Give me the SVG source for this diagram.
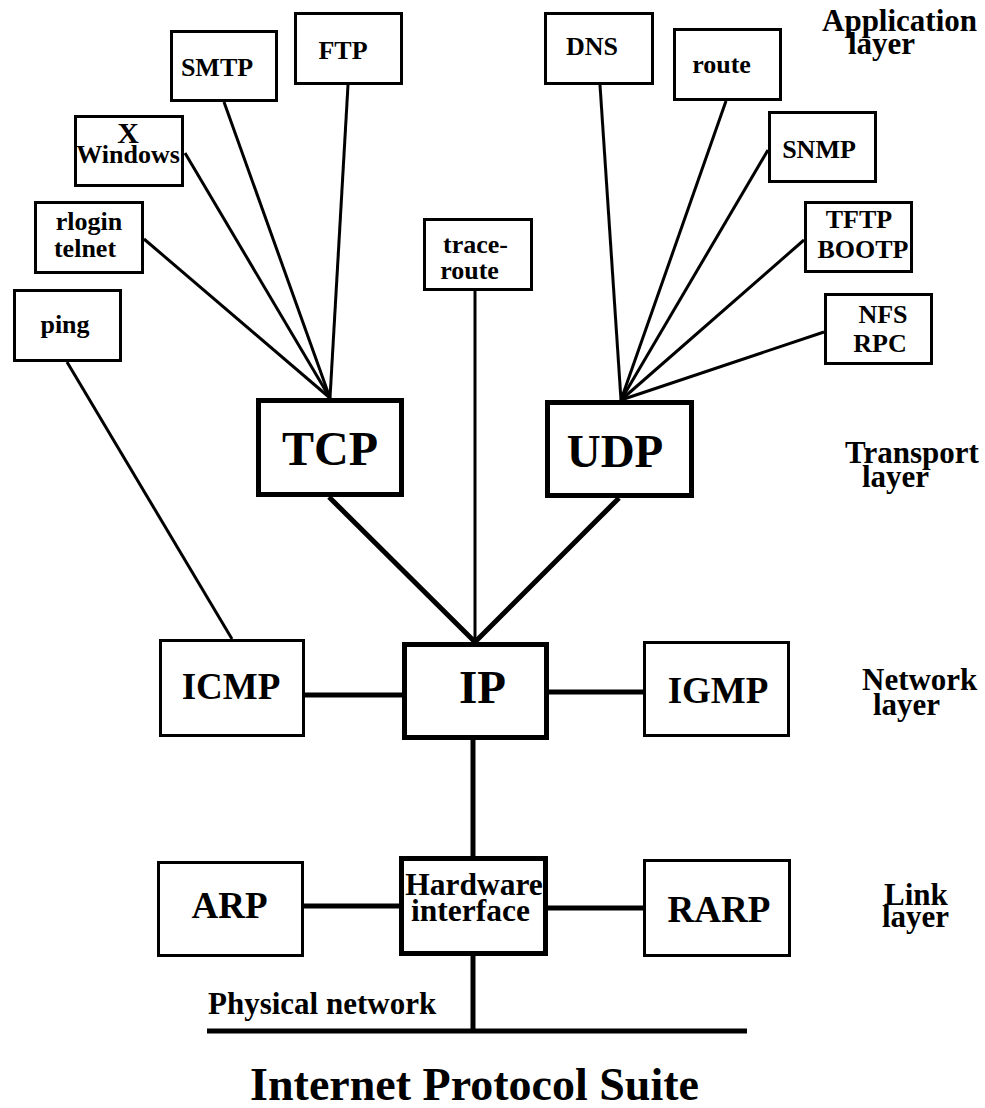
<svg xmlns="http://www.w3.org/2000/svg" width="985" height="1108" viewBox="0 0 985 1108">
<style>
text{font-family:"Liberation Serif","Times New Roman",serif;font-weight:bold;fill:#000}
.box{fill:#fff;stroke:#000;stroke-width:3}
.tbox{fill:#fff;stroke:#000;stroke-width:5}
.c{stroke:#000;stroke-width:3;fill:none}
.ct{stroke:#000;stroke-width:5;fill:none}
.s26{font-size:26px}
.s37{font-size:37px}
.s47{font-size:47px}
.lay{font-size:31px}
.m{text-anchor:middle}
</style>
<rect width="985" height="1108" fill="#fff"/>
<g id="connectors">
<line class="c" x1="348" y1="85" x2="330" y2="398"/>
<line class="c" x1="224" y1="102" x2="330" y2="398"/>
<line class="c" x1="185" y1="153" x2="330" y2="398"/>
<line class="c" x1="144" y1="239" x2="330" y2="398"/>
<line class="c" x1="67" y1="362" x2="232" y2="639"/>
<line class="c" x1="475" y1="291" x2="475" y2="642"/>
<line class="c" x1="600" y1="85" x2="621" y2="400"/>
<line class="c" x1="726" y1="101" x2="621" y2="400"/>
<line class="c" x1="768" y1="150" x2="621" y2="400"/>
<line class="c" x1="804" y1="240" x2="621" y2="400"/>
<line class="c" x1="824" y1="332" x2="621" y2="400"/>
<line class="ct" x1="329" y1="497" x2="475" y2="642"/>
<line class="ct" x1="619" y1="498" x2="475" y2="642"/>
<line class="ct" x1="305" y1="695" x2="402" y2="695"/>
<line class="ct" x1="549" y1="692" x2="643" y2="692"/>
<line class="ct" x1="473" y1="740" x2="473" y2="856"/>
<line class="ct" x1="304" y1="906" x2="399" y2="906"/>
<line class="ct" x1="548" y1="908" x2="645" y2="908"/>
<line class="ct" x1="473" y1="956" x2="473" y2="1031"/>
<line class="ct" x1="207" y1="1031" x2="747" y2="1031"/>
</g>
<g id="ftp"><rect class="box" x="295.5" y="13.5" width="106" height="70"/><text class="s26 m" x="343" y="59">FTP</text></g>
<g id="smtp"><rect class="box" x="171.5" y="31.5" width="105" height="69"/><text class="s26 m" x="217" y="76">SMTP</text></g>
<g id="xwindows"><rect class="box" x="75.5" y="116.5" width="107" height="69"/><text class="m"><tspan style="font-size:30px" x="128" y="143">X</tspan><tspan class="s26" x="128" y="163">Windows</tspan></text></g>
<g id="rlogin"><rect class="box" x="35.5" y="202.5" width="107" height="70"/><text class="s26 m"><tspan x="89" y="230">rlogin</tspan><tspan x="85" y="257">telnet</tspan></text></g>
<g id="ping"><rect class="box" x="14.5" y="290.5" width="106" height="70"/><text class="s26 m" x="65" y="333">ping</text></g>
<g id="traceroute"><rect class="box" x="424.5" y="219.5" width="107" height="70"/><text class="s26 m"><tspan x="475.5" y="253">trace-</tspan><tspan x="469.5" y="279">route</tspan></text></g>
<g id="dns"><rect class="box" x="545.5" y="13.5" width="107" height="70"/><text class="s26 m" x="592" y="55">DNS</text></g>
<g id="route"><rect class="box" x="674.5" y="29.5" width="106" height="70"/><text class="s26 m" x="721.5" y="73">route</text></g>
<g id="snmp"><rect class="box" x="769.5" y="112.5" width="106" height="69"/><text class="s26 m" x="819" y="158">SNMP</text></g>
<g id="tftp"><rect class="box" x="805.5" y="202.5" width="106" height="69"/><text class="s26 m"><tspan x="859" y="228">TFTP</tspan><tspan x="863" y="258">BOOTP</tspan></text></g>
<g id="nfs"><rect class="box" x="825.5" y="294.5" width="106" height="69"/><text class="s26 m"><tspan x="883" y="323">NFS</tspan><tspan x="880" y="352">RPC</tspan></text></g>
<g id="tcp"><rect class="tbox" x="258.5" y="400.5" width="143" height="94"/><text class="m" style="font-size:48px" x="330" y="465">TCP</text></g>
<g id="udp"><rect class="tbox" x="547.5" y="402.5" width="144" height="93"/><text class="s47 m" x="615" y="467">UDP</text></g>
<g id="icmp"><rect class="box" x="160.5" y="640.5" width="143" height="95"/><text class="s37 m" x="231" y="699">ICMP</text></g>
<g id="ip"><rect class="tbox" x="404.5" y="644.5" width="142" height="93"/><text class="s47 m" x="482.5" y="703">IP</text></g>
<g id="igmp"><rect class="box" x="644.5" y="642.5" width="144" height="93"/><text class="s37 m" x="718" y="703">IGMP</text></g>
<g id="arp"><rect class="box" x="158.5" y="862.5" width="144" height="93"/><text class="s37 m" x="229.5" y="918">ARP</text></g>
<g id="hardware"><rect class="tbox" x="401.5" y="858.5" width="144" height="95"/><text class="m" style="font-size:31.5px"><tspan x="474" y="895">Hardware</tspan><tspan x="470.5" y="921">interface</tspan></text></g>
<g id="rarp"><rect class="box" x="644.5" y="860.5" width="145" height="95"/><text class="s37 m" x="719" y="922">RARP</text></g>
<g id="labels">
<text class="lay"><tspan x="822" y="31">Application</tspan><tspan x="848" y="54">layer</tspan></text>
<text class="lay"><tspan x="845" y="463">Transport</tspan><tspan x="862" y="487">layer</tspan></text>
<text class="lay"><tspan x="862" y="690">Network</tspan><tspan x="873" y="715">layer</tspan></text>
<text class="lay"><tspan x="884" y="905">Link</tspan><tspan x="882" y="927">layer</tspan></text>
<text class="lay" x="208" y="1014">Physical network</text>
<text class="m" style="font-size:46px" x="474.5" y="1100">Internet Protocol Suite</text>
</g>
</svg>
